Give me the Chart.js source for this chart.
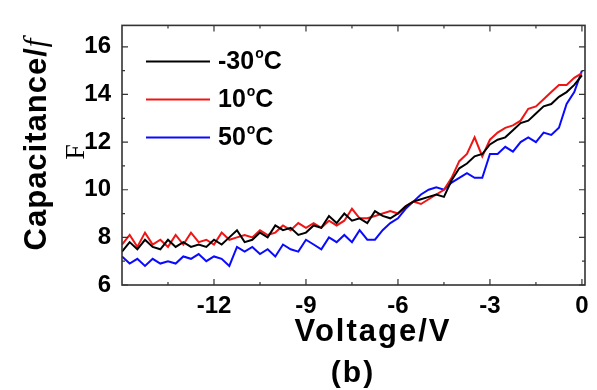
<!DOCTYPE html>
<html>
<head>
<meta charset="utf-8">
<script src="https://cdn.jsdelivr.net/npm/chart.js@4.4.0/dist/chart.umd.min.js"></script>
<style>
html, body { margin: 0; padding: 0; background: #fff; }
#contenedor { width: 597px; height: 390px; }
</style>
</head>
<body>
<div id="contenedor"><canvas id="grafico"></canvas></div>
<script>
// voltaje (V) y capacitancia
const voltaje = [-15, -14.75, -14.5, -14.25, -14, -13.75, -13.5, -13.25, -13, -12.75, -12.5, -12.25,
  -12, -11.75, -11.5, -11.25, -11, -10.75, -10.5, -10.25, -10, -9.75, -9.5, -9.25,
  -9, -8.75, -8.5, -8.25, -8, -7.75, -7.5, -7.25, -7, -6.75, -6.5, -6.25,
  -6, -5.75, -5.5, -5.25, -5, -4.75, -4.5, -4.25, -4, -3.75, -3.5, -3.25,
  -3, -2.75, -2.5, -2.25, -2, -1.75, -1.5, -1.25, -1, -0.75, -0.5, -0.25, 0];

const capMenos30 = [7.4, 7.8, 7.5, 7.9, 7.6, 7.5, 7.9, 7.6, 7.8, 7.6, 7.7, 7.6,
  7.9, 7.7, 8.0, 8.3, 7.8, 7.9, 8.2, 8.0, 8.5, 8.3, 8.4, 8.1,
  8.2, 8.5, 8.4, 8.9, 8.6, 9.0, 8.7, 8.8, 8.6, 9.1, 8.9, 8.8,
  9.0, 9.3, 9.5, 9.6, 9.7, 9.8, 9.7, 10.4, 10.9, 11.1, 11.4, 11.5,
  11.9, 12.1, 12.2, 12.5, 12.8, 12.9, 13.2, 13.5, 13.6, 13.9, 14.1, 14.4, 14.8];

const cap10 = [7.7, 8.1, 7.6, 8.2, 7.7, 7.9, 7.6, 8.1, 7.7, 8.2, 7.8, 7.9,
  7.7, 8.2, 7.9, 8.0, 8.1, 8.0, 8.3, 8.1, 8.2, 8.5, 8.3, 8.6,
  8.4, 8.6, 8.4, 8.7, 8.5, 8.7, 9.2, 8.8, 8.8, 8.9, 9.0, 9.1,
  9.0, 9.3, 9.5, 9.4, 9.6, 9.8, 10.0, 10.5, 11.2, 11.5, 12.2, 11.4,
  12.1, 12.4, 12.6, 12.7, 12.9, 13.4, 13.5, 13.8, 14.1, 14.4, 14.4, 14.7, 14.9];

const cap50 = [7.2, 6.9, 7.1, 6.8, 7.1, 6.9, 7.0, 6.9, 7.2, 7.1, 7.3, 7.0,
  7.2, 7.1, 6.8, 7.6, 7.4, 7.6, 7.3, 7.5, 7.2, 7.7, 7.5, 7.4,
  7.9, 7.7, 7.5, 8.0, 7.8, 8.1, 7.8, 8.3, 7.9, 7.9, 8.3, 8.6,
  8.8, 9.2, 9.5, 9.8, 10.0, 10.1, 10.0, 10.3, 10.5, 10.7, 10.5, 10.5,
  11.5, 11.5, 11.8, 11.6, 12.0, 12.2, 12.0, 12.4, 12.3, 12.6, 13.6, 14.1, 15.0];

const etiquetas = ['-30', '10', '50'];
const colores = ['#000000', '#f01414', '#0a0aff'];
const ticksX = [-12, -9, -6, -3, 0];
const menoresX = [-13.5, -10.5, -7.5, -4.5, -1.5];
const ticksY = [6, 8, 10, 12, 14, 16];
const menoresY = [7, 9, 11, 13, 15];

const fuente = "'Liberation Sans', Arial, sans-serif";

const series = [capMenos30, cap10, cap50];
const chartData = {
  datasets: series.map((s, i) => ({
    label: etiquetas[i],
    data: voltaje.map((v, j) => ({ x: v, y: s[j] })),
    borderColor: colores[i],
    backgroundColor: colores[i],
    borderWidth: 2,
    pointRadius: 0,
    tension: 0
  }))
};

// marco, ticks hacia adentro, leyenda y titulos
const decoracion = {
  id: 'decoracion',
  afterDraw(chart) {
    const { ctx, chartArea: a, scales: { x, y } } = chart;
    ctx.save();
    ctx.strokeStyle = '#333';
    ctx.lineWidth = 1.2;
    const marcaX = (v, len) => {
      const px = x.getPixelForValue(v);
      ctx.beginPath();
      ctx.moveTo(px, a.bottom); ctx.lineTo(px, a.bottom - len);
      ctx.moveTo(px, a.top); ctx.lineTo(px, a.top + len);
      ctx.stroke();
    };
    const marcaY = (v, len) => {
      const py = y.getPixelForValue(v);
      ctx.beginPath();
      ctx.moveTo(a.left, py); ctx.lineTo(a.left + len, py);
      ctx.moveTo(a.right, py); ctx.lineTo(a.right - len, py);
      ctx.stroke();
    };
    ticksX.forEach(v => marcaX(v, 6));
    menoresX.forEach(v => marcaX(v, 3));
    ticksY.forEach(v => marcaY(v, 6));
    menoresY.forEach(v => marcaY(v, 3));
    ctx.lineWidth = 1.6;
    ctx.strokeRect(a.left, a.top, a.right - a.left, a.bottom - a.top);

    // leyenda
    ctx.textBaseline = 'middle';
    ctx.textAlign = 'left';
    chart.data.datasets.forEach((ds, i) => {
      const yy = a.top + 36 + i * 38;
      ctx.strokeStyle = ds.borderColor;
      ctx.lineWidth = 2;
      ctx.beginPath();
      ctx.moveTo(a.left + 24, yy); ctx.lineTo(a.left + 88, yy);
      ctx.stroke();
      ctx.fillStyle = '#000';
      ctx.font = 'bold 25px ' + fuente;
      let xx = a.left + 96;
      ctx.fillText(ds.label, xx, yy + 1);
      xx += ctx.measureText(ds.label).width + 1;
      ctx.font = 'bold 14px ' + fuente;
      ctx.fillText('o', xx, yy - 7);
      xx += ctx.measureText('o').width;
      ctx.font = 'bold 25px ' + fuente;
      ctx.fillText('C', xx, yy + 1);
    });

    // titulo eje Y
    ctx.fillStyle = '#000';
    ctx.save();
    ctx.translate(37, 144);
    ctx.rotate(-Math.PI / 2);
    ctx.letterSpacing = '1px';
    ctx.font = 'bold 31px ' + fuente;
    const t1 = 'Capacitance/';
    const w1 = ctx.measureText(t1).width;
    ctx.font = "italic 31px 'Liberation Serif', serif";
    const w2 = ctx.measureText('f').width;
    ctx.textAlign = 'left';
    ctx.font = 'bold 31px ' + fuente;
    ctx.fillText(t1, -(w1 + w2) / 2, 0);
    ctx.font = "italic 31px 'Liberation Serif', serif";
    ctx.fillText('f', -(w1 + w2) / 2 + w1, 0);
    ctx.restore();

    ctx.save();
    ctx.translate(77, 152);
    ctx.rotate(-Math.PI / 2);
    ctx.textAlign = 'center';
    ctx.font = "28px 'Liberation Serif', serif";
    ctx.fillText('F', 0, 0);
    ctx.restore();

    // titulo eje X y letra del panel
    ctx.textAlign = 'center';
    ctx.letterSpacing = '2px';
    ctx.font = 'bold 31px ' + fuente;
    ctx.fillText('Voltage/V', 373, 332);
    ctx.font = 'bold 30px ' + fuente;
    ctx.fillText('(b)', 353, 374);
    ctx.restore();
  }
};

const options = {
  responsive: true,
  maintainAspectRatio: false,
  animation: false,
  layout: { padding: { top: 20, right: 12, left: 0, bottom: 0 } },
  scales: {
    x: {
      type: 'linear',
      min: -15,
      max: 0.1,
      grid: { display: false, drawTicks: false },
      border: { display: false },
      afterBuildTicks: s => { s.ticks = ticksX.map(v => ({ value: v })); },
      afterFit: s => { s.height = 105; },
      ticks: {
        color: '#000',
        padding: 7,
        maxRotation: 0,
        font: { family: fuente, size: 24, weight: 'bold' }
      }
    },
    y: {
      type: 'linear',
      min: 6,
      max: 16.9,
      grid: { display: false, drawTicks: false },
      border: { display: false },
      afterBuildTicks: s => { s.ticks = ticksY.map(v => ({ value: v })); },
      afterFit: s => { s.width = 122; },
      ticks: {
        color: '#000',
        padding: 11,
        font: { family: fuente, size: 24, weight: 'bold' }
      }
    }
  },
  plugins: {
    legend: { display: false },
    tooltip: { enabled: false }
  }
};

new Chart(document.getElementById('grafico'), {
  type: 'line',
  data: chartData,
  options: options,
  plugins: [decoracion]
});
</script>
</body>
</html>
